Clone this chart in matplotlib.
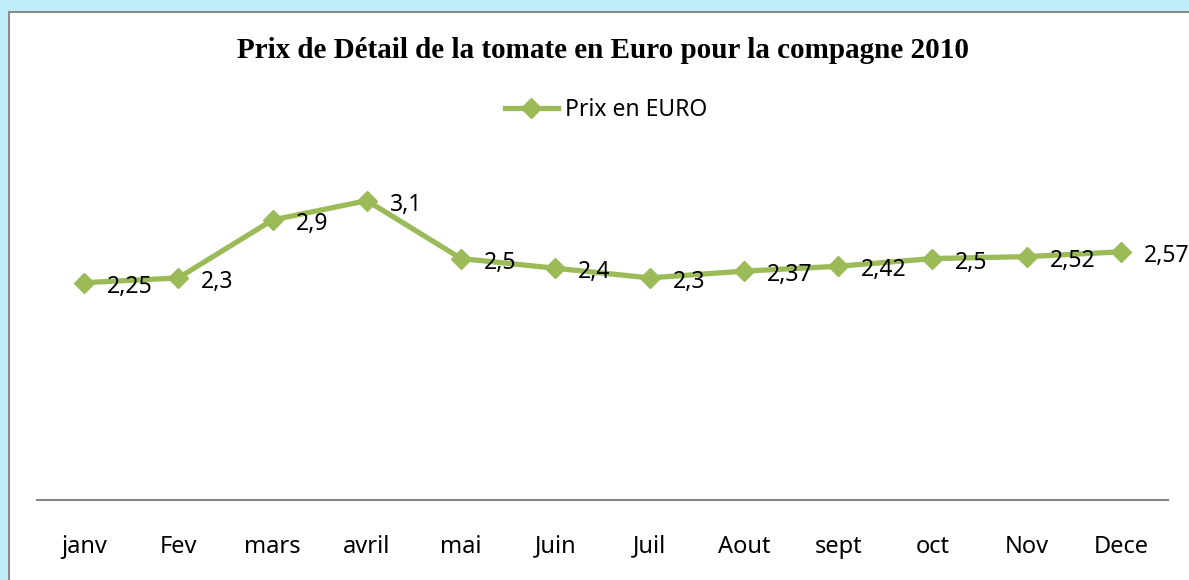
import matplotlib.pyplot as plt
from matplotlib.patches import Rectangle

# data
months = ["janv", "Fev", "mars", "avril", "mai", "Juin", "Juil", "Aout", "sept", "oct", "Nov", "Dece"]
prices = [2.25, 2.3, 2.9, 3.1, 2.5, 2.4, 2.3, 2.37, 2.42, 2.5, 2.52, 2.57]
labels = ["2,25", "2,3", "2,9", "3,1", "2,5", "2,4", "2,3", "2,37", "2,42", "2,5", "2,52", "2,57"]

green = "#9BBB59"
W, H = 1189, 580

fig = plt.figure(figsize=(W / 100, H / 100), dpi=100)
fig.patch.set_facecolor("#bfeefa")

# white chart area with gray frame (runs off the right/bottom edge)
fig.add_artist(Rectangle((9 / W, -0.1), 1.2, (H - 12) / H + 0.1, transform=fig.transFigure,
                         facecolor="white", edgecolor="#8a8a8a", linewidth=1.5, zorder=-5))

ax = fig.add_axes([37 / W, (H - 500) / H, (1168 - 37) / W, (500 - 162) / H])
ax.set_facecolor("none")

x = list(range(len(months)))
line, = ax.plot(x, prices, color=green, linewidth=3.8, marker="D", markersize=10,
                markerfacecolor=green, markeredgecolor=green, label="Prix en EURO")

for xi, yi, lab in zip(x, prices, labels):
    ax.annotate(lab, (xi, yi), xytext=(16.5, -3), textcoords="offset points",
                ha="left", va="center", fontsize=16.5, family="Noto Sans", color="black")

ax.set_xlim(-0.5, len(months) - 0.5)
ax.set_ylim(0, 3.5)
ax.set_xticks(x)
ax.set_xticklabels(months, fontsize=17, family="Noto Sans")
ax.tick_params(axis="x", length=0, pad=25)
ax.set_yticks([])
for side in ["left", "right", "top"]:
    ax.spines[side].set_visible(False)
ax.spines["bottom"].set_color("#868686")
ax.spines["bottom"].set_linewidth(1.5)

fig.text(603 / W, 1 - 51 / H, "Prix de Détail de la tomate en Euro pour la compagne 2010",
         ha="center", va="center", fontsize=21, fontweight="bold", family="Liberation Serif")

fig.legend(handles=[line], loc="center", bbox_to_anchor=(606 / W, 1 - 110 / H),
           frameon=False, prop={"family": "Noto Sans", "size": 16.5},
           handlelength=2.3, handletextpad=0.3)

fig.savefig("out.png", dpi=100)
